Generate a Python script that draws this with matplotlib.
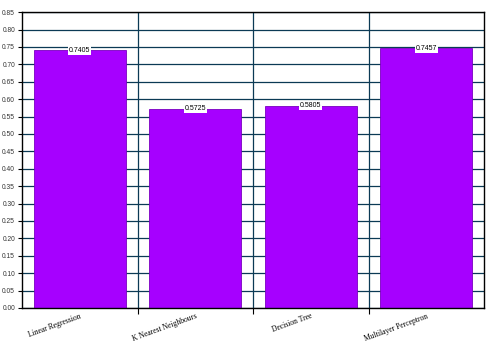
import matplotlib
matplotlib.use("Agg")
import matplotlib.pyplot as plt
from matplotlib.ticker import FixedLocator, NullFormatter

models = [
    "Linear Regression",
    "K Nearest Neighbours",
    "Decision Tree",
    "Multilayer Perceptron",
]

scores = [0.7405, 0.5725, 0.5805, 0.7457]

score_labels = ["0.7405", "0.5725", "0.5805", "0.7457"]

y_ticks = [i * 0.05 for i in range(18)]


def main():
    fig = plt.figure(figsize=(5.0, 3.56), dpi=100)
    ax = fig.add_axes([0.044, 0.135, 0.924, 0.831])

    positions = list(range(len(models)))

    ax.bar(
        positions,
        scores,
        width=0.8,
        color="#a600ff",
        edgecolor="#7a00c0",
        linewidth=0.6,
        zorder=3,
    )

    for pos, val, txt in zip(positions, scores, score_labels):
        ax.text(
            pos,
            val,
            txt,
            ha="center",
            va="center",
            fontsize=5,
            family="Liberation Sans",
            bbox=dict(facecolor="white", edgecolor="none", pad=0.6),
            zorder=4,
        )

    ax.set_xlim(-0.5, len(models) - 0.5)
    ax.set_ylim(0, 0.85)

    # horizontal grid on every y tick
    ax.set_yticks(y_ticks)
    ax.set_yticklabels([f"{t:.2f}" for t in y_ticks])
    ax.yaxis.grid(True, color="#0b3a55", linewidth=0.9, zorder=1)

    # category names centred under bars, grid between categories
    ax.set_xticks(positions)
    ax.set_xticklabels(
        models,
        rotation=20,
        ha="right",
        rotation_mode="anchor",
        fontsize=5.5,
        family="Liberation Serif",
    )
    ax.tick_params(axis="x", which="major", length=0, pad=3)
    ax.xaxis.set_minor_locator(FixedLocator([0.5, 1.5, 2.5]))
    ax.xaxis.set_minor_formatter(NullFormatter())
    ax.tick_params(axis="x", which="minor", length=4, width=0.8, color="black")
    ax.xaxis.grid(True, which="minor", color="#0b3a55", linewidth=0.9, zorder=1)

    ax.tick_params(axis="y", length=3, width=0.8, labelsize=4.8, pad=2)
    for lab in ax.get_yticklabels():
        lab.set_family("Liberation Sans")
        lab.set_color("#333333")

    for spine in ax.spines.values():
        spine.set_color("black")
        spine.set_linewidth(1.0)
        spine.set_zorder(5)

    ax.set_axisbelow(True)

    fig.savefig("out.png", dpi=100)


if __name__ == "__main__":
    main()
